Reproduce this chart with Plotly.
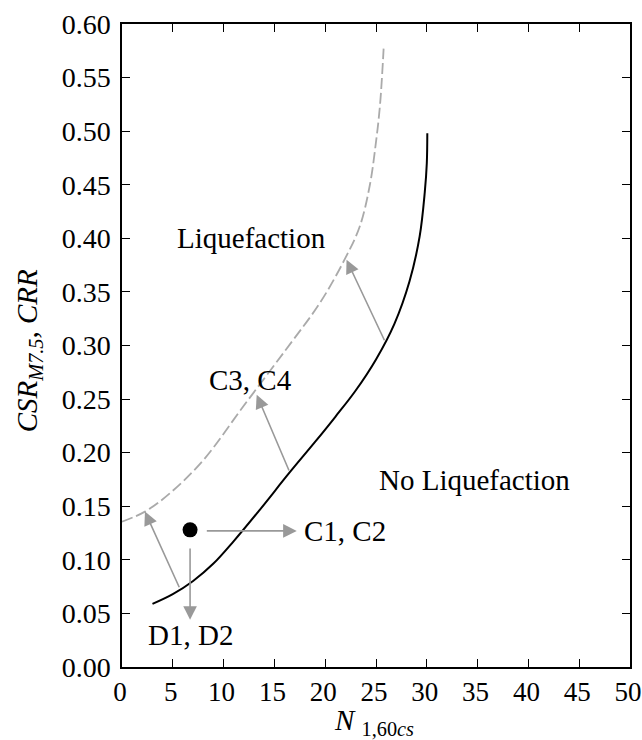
import plotly.graph_objects as go

# Solid curve (CRR base curve)
solid_x = [3.0, 5.0, 7.0, 9.0, 11.0, 13.5, 16.5, 19.0, 21.0, 23.0, 25.0, 26.8, 28.3, 29.3, 29.8, 30.0, 30.05]
solid_y = [0.0589, 0.068, 0.0803, 0.0965, 0.1175, 0.146, 0.1815, 0.210, 0.2335, 0.258, 0.287, 0.320, 0.360, 0.402, 0.443, 0.470, 0.498]

# Dashed curve (shifted curve)
dash_x = [0.0, 2.26, 4.7, 8.0, 12.0, 16.2, 19.5, 21.95, 23.4, 24.4, 25.0, 25.4, 25.75]
dash_y = [0.1356, 0.145, 0.162, 0.193, 0.244, 0.297, 0.340, 0.381, 0.411, 0.450, 0.490, 0.525, 0.577]

# Point of interest
pt_x = [6.7]
pt_y = [0.128]

# Arrows (tail -> head)
arrow_tail_x = [5.7, 6.7, 8.2, 16.5, 25.9]
arrow_tail_y = [0.073, 0.112, 0.127, 0.182, 0.3035]
arrow_head_x = [2.26, 6.7, 17.2, 13.26, 22.1]
arrow_head_y = [0.145, 0.044, 0.127, 0.254, 0.38]

# Text labels
label_text = ["Liquefaction", "C3, C4", "C1, C2", "No Liquefaction", "D1, D2"]
label_x = [12.7, 12.6, 21.9, 34.7, 6.7]
label_y = [0.40, 0.268, 0.127, 0.1745, 0.030]

x_ticks = [0, 5, 10, 15, 20, 25, 30, 35, 40, 45, 50]
y_ticks = [0.00, 0.05, 0.10, 0.15, 0.20, 0.25, 0.30, 0.35, 0.40, 0.45, 0.50, 0.55, 0.60]

x_title = "<i>N</i> <sub>1,60<i>cs</i></sub>"
y_title = "<i>CSR</i><sub><i>M7.5</i></sub>, <i>CRR</i>"

FONT = "Liberation Serif"
FS = 28
FS_X = 27
FS_LBL = 29

fig = go.Figure()
fig.add_trace(go.Scatter(x=dash_x, y=dash_y, mode="lines",
                         line=dict(color="#aaaaaa", width=1.8, dash="11px,4px", shape="spline", smoothing=1.0),
                         hoverinfo="skip"))
fig.add_trace(go.Scatter(x=solid_x, y=solid_y, mode="lines",
                         line=dict(color="black", width=2, shape="spline", smoothing=1.0),
                         hoverinfo="skip"))
fig.add_trace(go.Scatter(x=pt_x, y=pt_y, mode="markers", marker=dict(color="black", size=15), hoverinfo="skip"))

annotations = []
for tx, ty, hx, hy in zip(arrow_tail_x, arrow_tail_y, arrow_head_x, arrow_head_y):
    annotations.append(dict(x=hx, y=hy, ax=tx, ay=ty, xref="x", yref="y", axref="x", ayref="y",
                            text="", showarrow=True, arrowhead=2, arrowsize=1.7, arrowwidth=1.6,
                            arrowcolor="#999999", standoff=0, startstandoff=0))
for t, x, y in zip(label_text, label_x, label_y):
    annotations.append(dict(x=x, y=y, xref="x", yref="y", text=t, showarrow=False,
                            font=dict(family=FONT, size=FS_LBL, color="black")))

# axis titles
annotations.append(dict(x=0.497, y=-0.085, xref="paper", yref="paper", text=x_title, showarrow=False,
                        xanchor="center", yanchor="middle", font=dict(family=FONT, size=FS_LBL, color="black")))
annotations.append(dict(x=-0.183, y=0.491, xref="paper", yref="paper", text=y_title, showarrow=False,
                        textangle=-90, xanchor="center", yanchor="middle",
                        font=dict(family=FONT, size=FS_LBL, color="black")))

fig.update_layout(
    width=642, height=740,
    margin=dict(l=122, r=12, t=24, b=73),
    paper_bgcolor="white", plot_bgcolor="white",
    showlegend=False,
    font=dict(family=FONT, size=FS, color="black"),
    annotations=annotations,
    xaxis=dict(range=[0, 50], tickvals=x_ticks, ticktext=[str(v) for v in x_ticks],
               ticks="inside", ticklen=8, tickwidth=1, tickcolor="black",
               showline=True, linecolor="black", linewidth=1.5, mirror="ticks",
               showgrid=False, zeroline=False, automargin=False, ticklabeloverflow="allow",
               ticklabelshift=-2,
               tickfont=dict(family=FONT, size=FS_X)),
    yaxis=dict(range=[0, 0.60], tickvals=y_ticks, ticktext=[f"{v:.2f}" for v in y_ticks],
               ticks="inside", ticklen=8, tickwidth=1, tickcolor="black",
               showline=True, linecolor="black", linewidth=1.5, mirror="ticks",
               showgrid=False, zeroline=False, automargin=False, ticklabelstandoff=4,
               ticklabeloverflow="allow",
               tickfont=dict(family=FONT, size=FS)),
)

fig.write_html("out.html", config={"displayModeBar": False},
               post_script="document.body.style.margin='0';")
